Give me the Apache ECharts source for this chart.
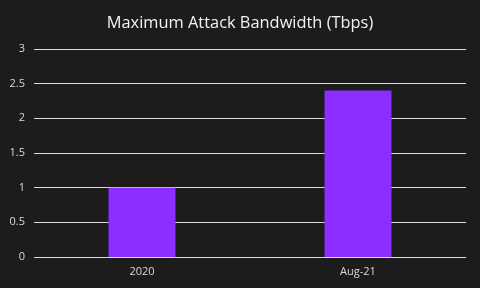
<!DOCTYPE html>
<html><head><meta charset="utf-8">
<script src="https://cdn.jsdelivr.net/npm/echarts@6/dist/echarts.min.js"></script>
<style>html,body{margin:0;padding:0;background:#1c1c1c}#c{width:480px;height:288px}</style>
</head><body><div id="c"></div>
<script>
const categories = ["2020", "Aug-21"];
const values = [1.0, 2.4];
const yTicks = [0, 0.5, 1, 1.5, 2, 2.5, 3];
const chart = echarts.init(document.getElementById('c'));
chart.setOption({
  backgroundColor: '#1c1c1c',
  animation: false,
  title: {
    text: 'Maximum Attack Bandwidth (Tbps)',
    left: 'center', top: 10,
    textStyle: {color: '#f2f2f2', fontSize: 16.4, fontWeight: 'normal', fontFamily: 'Open Sans'}
  },
  grid: {left: 34, right: 14, top: 49, bottom: 31, containLabel: false},
  xAxis: {
    type: 'category', data: categories,
    axisLine: {show: false}, axisTick: {show: false},
    axisLabel: {color: '#d9d9d9', fontSize: 11, margin: 9, fontFamily: 'Open Sans'}
  },
  yAxis: {
    type: 'value', min: yTicks[0], max: yTicks[yTicks.length-1], interval: 0.5,
    axisLine: {show: false}, axisTick: {show: false},
    axisLabel: {color: '#d9d9d9', fontSize: 11, margin: 9, fontFamily: 'Open Sans'},
    splitLine: {lineStyle: {color: '#d9d9d9', width: 1}}
  },
  series: [{
    type: 'bar', data: values, barWidth: '31%',
    itemStyle: {color: '#8b2eff'}
  }]
});
</script></body></html>
